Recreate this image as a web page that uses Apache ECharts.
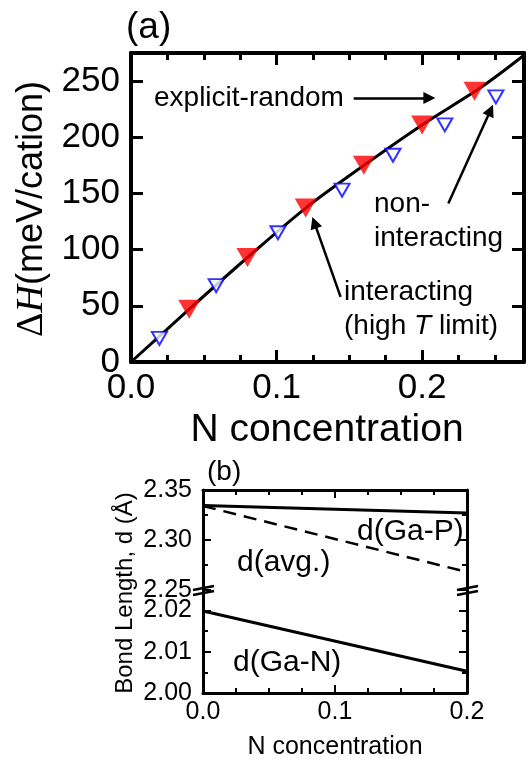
<!DOCTYPE html>
<html>
<head>
<meta charset="utf-8">
<script src="https://cdn.jsdelivr.net/npm/echarts@6/dist/echarts.min.js"></script>
<style>
  html, body { margin: 0; padding: 0; background: #fff; }
  #chart { width: 531px; height: 762px; }
</style>
</head>
<body>
<div id="chart"></div>
<script>
// (a) mixing enthalpy vs N concentration
const explicitX = [0.04, 0.08, 0.12, 0.16, 0.20, 0.236];
const explicitH = [47, 93, 137, 175, 211, 241];
const nonInterX = [0.0195, 0.0585, 0.101, 0.145, 0.18, 0.2156, 0.2507];
const nonInterH = [21, 68, 115, 153, 184, 211, 236];
const interX = [0, 0.04, 0.08, 0.12, 0.16, 0.20, 0.24, 0.27];
const interH = [0, 47, 93, 137, 175, 211, 244, 273];

// arrows [start, end] in data units
const explicitArrow = [[0.153, 235], [0.205, 235]];
const nonInterArrow = [[0.218, 141], [0.247, 224]];
const interArrow = [[0.144, 58], [0.126, 124]];

// (b) bond lengths
const bondX = [0, 0.2];
const dGaP = [2.3345, 2.327];
const dAvg = [2.334, 2.268];
const dGaN = [2.0199, 2.0053];

const sans = '"Liberation Sans", Arial, sans-serif';
const serif = '"Liberation Serif", "Times New Roman", serif';

const chart = echarts.init(document.getElementById('chart'), null, { renderer: 'canvas' });

function axis(gridIndex, position, min, max, interval, o) {
  return {
    type: 'value', gridIndex, position, min, max, interval,
    axisLine: { show: !!o.line, onZero: false, lineStyle: { color: '#000', width: o.lw || 3 } },
    axisTick: { show: true, inside: true, length: o.tl, lineStyle: { color: '#000', width: o.tw || 2 } },
    axisLabel: o.fmt ? {
      show: true, margin: o.margin, fontSize: o.fs, color: '#000', fontFamily: sans,
      formatter: o.fmt, showMaxLabel: o.showMax !== false, showMinLabel: true
    } : { show: false },
    splitLine: { show: false },
    minorTick: { show: false }
  };
}

const fx1 = v => v.toFixed(1);

const xAxes = [
  // panel (a)
  axis(0, 'bottom', 0, 0.27, 0.1, { line: 1, lw: 4, tl: 12, tw: 3, fmt: fx1, fs: 35, margin: 9, showMax: false }),
  axis(0, 'bottom', 0, 0.27, 0.025, { tl: 7, tw: 3 }),
  axis(0, 'top', 0, 0.27, 0.1, { line: 1, lw: 4, tl: 12, tw: 3 }),
  axis(0, 'top', 0, 0.27, 0.025, { tl: 7, tw: 3 }),
  // panel (b) upper
  axis(1, 'top', 0, 0.2, 0.1, { line: 1, lw: 3, tl: 8, tw: 2 }),
  axis(1, 'top', 0, 0.2, 0.025, { tl: 5, tw: 2 }),
  // panel (b) lower
  axis(2, 'bottom', 0, 0.2, 0.1, { line: 1, lw: 3, tl: 8, tw: 2, fmt: fx1, fs: 25, margin: 7 }),
  axis(2, 'bottom', 0, 0.2, 0.025, { tl: 5, tw: 2 })
];

const yAxes = [
  axis(0, 'left', 0, 275, 50, { line: 1, lw: 4, tl: 12, tw: 3, fmt: v => v.toFixed(0), fs: 35, margin: 11, showMax: false }),
  axis(0, 'right', 0, 275, 50, { line: 1, lw: 4, tl: 12, tw: 3 }),
  axis(1, 'left', 2.25, 2.35, 0.05, { line: 1, lw: 3, tl: 8, tw: 2, fmt: v => v.toFixed(2), fs: 25, margin: 11 }),
  axis(1, 'left', 2.25, 2.35, 0.025, { tl: 5, tw: 2 }),
  axis(1, 'right', 2.25, 2.35, 0.05, { line: 1, lw: 3, tl: 8, tw: 2 }),
  axis(1, 'right', 2.25, 2.35, 0.025, { tl: 5, tw: 2 }),
  axis(2, 'left', 2.0, 2.025, 0.01, { line: 1, lw: 3, tl: 8, tw: 2, fmt: v => v.toFixed(2), fs: 25, margin: 11, showMax: false }),
  axis(2, 'left', 2.0, 2.025, 0.005, { tl: 5, tw: 2 }),
  axis(2, 'right', 2.0, 2.025, 0.01, { line: 1, lw: 3, tl: 8, tw: 2 }),
  axis(2, 'right', 2.0, 2.025, 0.005, { tl: 5, tw: 2 })
];

const zip = (xs, ys) => xs.map((x, i) => [x, ys[i]]);

const series = [
  {
    type: 'line', xAxisIndex: 0, yAxisIndex: 0, data: zip(interX, interH),
    smooth: 0.3, showSymbol: false, symbol: 'none', clip: true,
    lineStyle: { color: '#000', width: 3 }, z: 2, silent: true
  },
  {
    type: 'scatter', xAxisIndex: 0, yAxisIndex: 0, data: zip(explicitX, explicitH),
    symbol: 'triangle', symbolRotate: 180, symbolSize: [22, 19],
    itemStyle: { color: '#ff0000' }, z: 3
  },
  {
    type: 'scatter', xAxisIndex: 0, yAxisIndex: 0, data: zip(nonInterX, nonInterH),
    symbol: 'triangle', symbolRotate: 180, symbolSize: [15, 13],
    itemStyle: { color: '#fff', borderColor: '#0000ff', borderWidth: 2 }, z: 3
  },
  {
    type: 'lines', coordinateSystem: 'cartesian2d', xAxisIndex: 0, yAxisIndex: 0,
    symbol: ['none', 'triangle'], symbolSize: 12, silent: true, z: 4,
    lineStyle: { color: '#000', width: 2.5, opacity: 1, curveness: 0 },
    data: [explicitArrow, nonInterArrow, interArrow].map(c => ({ coords: c }))
  },
  {
    type: 'line', xAxisIndex: 4, yAxisIndex: 2, data: zip(bondX, dGaP),
    symbol: 'none', lineStyle: { color: '#000', width: 3 }, silent: true
  },
  {
    type: 'line', xAxisIndex: 4, yAxisIndex: 2, data: zip(bondX, dAvg),
    symbol: 'none', lineStyle: { color: '#000', width: 2.5, type: [13, 8] }, silent: true
  },
  {
    type: 'line', xAxisIndex: 6, yAxisIndex: 6, data: zip(bondX, dGaN),
    symbol: 'none', lineStyle: { color: '#000', width: 3 }, silent: true
  }
];

function text(x, y, str, size, extra) {
  return Object.assign({
    type: 'text', x, y, silent: true,
    style: Object.assign({
      text: str, fill: '#000', fontSize: size, fontFamily: sans,
      align: 'left', verticalAlign: 'middle'
    }, extra || {})
  });
}

const graphic = [
  text(126, 28, '(a)', 37),
  text(154, 98, 'explicit-random', 28),
  text(374, 204, 'non-', 28),
  text(374, 238, 'interacting', 28),
  text(344, 292, 'interacting', 28),
  {
    type: 'text', x: 344, y: 326, silent: true,
    style: {
      text: '{n|(high }{i|T}{n| limit)}', fill: '#000', align: 'left', verticalAlign: 'middle',
      rich: {
        n: { fontSize: 28, fontFamily: sans, fill: '#000' },
        i: { fontSize: 28, fontFamily: sans, fontStyle: 'italic', fill: '#000' }
      }
    }
  },
  {
    type: 'text', x: 32, y: 209, rotation: Math.PI / 2, silent: true,
    style: {
      text: '{d|Δ}{h|H}{t|(meV/cation)}', fill: '#000', align: 'center', verticalAlign: 'middle',
      rich: {
        d: { fontSize: 38, fontFamily: serif, fill: '#000' },
        h: { fontSize: 38, fontFamily: serif, fontStyle: 'italic', fill: '#000' },
        t: { fontSize: 36, fontFamily: sans, fill: '#000' }
      }
    }
  },
  text(327, 430, 'N concentration', 39, { align: 'center' }),
  // panel (b)
  text(207, 472, '(b)', 28),
  text(357, 532, 'd(Ga-P)', 30),
  text(237, 563, 'd(avg.)', 30),
  text(233, 663, 'd(Ga-N)', 30),
  text(335, 747, 'N concentration', 25, { align: 'center' }),
  {
    type: 'text', x: 125, y: 593, rotation: Math.PI / 2, silent: true,
    style: {
      text: 'Bond Length, d (Å)', fill: '#000', fontSize: 24, fontFamily: sans,
      align: 'center', verticalAlign: 'middle'
    }
  },
  // axis break marks
  { type: 'line', silent: true, shape: { x1: 193, y1: 590, x2: 214, y2: 586 }, style: { stroke: '#000', lineWidth: 2.5 } },
  { type: 'line', silent: true, shape: { x1: 193, y1: 595, x2: 214, y2: 591 }, style: { stroke: '#000', lineWidth: 2.5 } },
  { type: 'line', silent: true, shape: { x1: 457, y1: 590, x2: 478, y2: 586 }, style: { stroke: '#000', lineWidth: 2.5 } },
  { type: 'line', silent: true, shape: { x1: 457, y1: 595, x2: 478, y2: 591 }, style: { stroke: '#000', lineWidth: 2.5 } }
];

chart.setOption({
  animation: false,
  backgroundColor: '#fff',
  grid: [
    { left: 131, top: 53, width: 393, height: 309, outerBoundsMode: 'none' },
    { left: 203, top: 490, width: 264, height: 100, outerBoundsMode: 'none' },
    { left: 203, top: 590, width: 264, height: 103, outerBoundsMode: 'none' }
  ],
  xAxis: xAxes,
  yAxis: yAxes,
  series,
  graphic
});
</script>
</body>
</html>
